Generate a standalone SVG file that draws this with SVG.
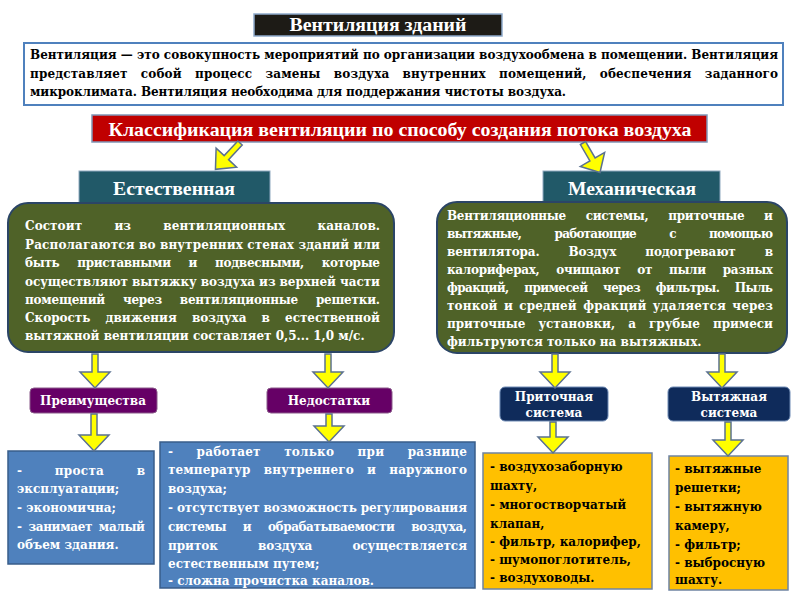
<svg xmlns="http://www.w3.org/2000/svg" width="800" height="600" viewBox="0 0 800 600">
<style>
.ttl{font-family:"Liberation Serif","Times New Roman",serif;font-weight:bold;fill:#fff}
.bd{font-family:"DejaVu Serif","Liberation Serif",serif;font-weight:bold;font-size:12px}
.w{fill:#fff}
.k{fill:#000}
.lbl{font-family:"DejaVu Serif","Liberation Serif",serif;font-weight:bold;font-size:12px;fill:#fff;text-anchor:middle}
.arr{fill:#ffff00;stroke:#5b7190;stroke-width:1.5;stroke-linejoin:miter}
.green{fill:#4f6228;stroke:#2b4566;stroke-width:2}
.blue{fill:#4f81bd;stroke:#385d8a;stroke-width:1.5}
.orange{fill:#ffc000;stroke:#6f84a3;stroke-width:1.5}
.purple{fill:#660066;stroke:#8a5a8a;stroke-width:1}
.navy{fill:#0f2b5b;stroke:#6f8bb5;stroke-width:1}
.teal{fill:#215968;stroke:#8fa9c0;stroke-width:1}
</style>
<rect width="800" height="600" fill="#fff"/>

<g id="title">
<rect x="254" y="14" width="248" height="22" fill="#1d1b16" stroke="#8eaacb" stroke-width="1.5"/>
<text class="ttl" x="378" y="31" font-size="18" text-anchor="middle" textLength="177" lengthAdjust="spacingAndGlyphs">Вентиляция зданий</text>
</g>

<g id="intro">
<rect x="24" y="43" width="759" height="62" fill="#fff" stroke="#4f81bd" stroke-width="2"/>
<text class="bd k" x="30" y="59" textLength="748" lengthAdjust="spacing">Вентиляция — это совокупность мероприятий по организации воздухообмена в помещении. Вентиляция</text>
<text class="bd k" x="30" y="78" word-spacing="9" textLength="748" lengthAdjust="spacing">представляет собой процесс замены воздуха внутренних помещений, обеспечения заданного</text>
<text class="bd k" x="30" y="96" textLength="536" lengthAdjust="spacing">микроклимата. Вентиляция необходима для поддержания чистоты воздуха.</text>
</g>

<g id="classification">
<rect x="92" y="115" width="615" height="27" fill="#c00000" stroke="#8096b6" stroke-width="1.5"/>
<text class="ttl" x="400" y="136" font-size="19" text-anchor="middle" textLength="583" lengthAdjust="spacingAndGlyphs">Классификация вентиляции по способу создания потока воздуха</text>
</g>

<g id="natural">
<rect class="teal" x="79" y="171" width="191" height="32"/>
<text class="ttl" x="174" y="195" font-size="18" text-anchor="middle" textLength="122" lengthAdjust="spacingAndGlyphs">Естественная</text>
</g>

<g id="mechanical">
<rect class="teal" x="543" y="171" width="177" height="32"/>
<text class="ttl" x="632" y="195" font-size="18" text-anchor="middle" textLength="128" lengthAdjust="spacingAndGlyphs">Механическая</text>
</g>

<g id="natural-desc">
<rect class="green" x="8" y="203" width="386" height="149" rx="20"/>
<text class="bd w" x="25" y="230" word-spacing="28" textLength="355" lengthAdjust="spacing">Состоит из вентиляционных каналов.</text>
<text class="bd w" x="25" y="248.5" textLength="355" lengthAdjust="spacing">Располагаются во внутренних стенах зданий или</text>
<text class="bd w" x="25" y="267" word-spacing="14" textLength="355" lengthAdjust="spacing">быть приставными и подвесными, которые</text>
<text class="bd w" x="25" y="285.5" textLength="355" lengthAdjust="spacing">осуществляют вытяжку воздуха из верхней части</text>
<text class="bd w" x="25" y="304" word-spacing="14" textLength="355" lengthAdjust="spacing">помещений через вентиляционные решетки.</text>
<text class="bd w" x="25" y="322" word-spacing="11" textLength="355" lengthAdjust="spacing">Скорость движения воздуха в естественной</text>
<text class="bd w" x="25" y="340">вытяжной вентиляции составляет 0,5... 1,0 м/с.</text>
</g>

<g id="mechanical-desc">
<rect class="green" x="437" y="202" width="350" height="151" rx="20"/>
<text class="bd w" x="447" y="220" word-spacing="16" textLength="326" lengthAdjust="spacing">Вентиляционные системы, приточные и</text>
<text class="bd w" x="447" y="238" word-spacing="30" textLength="326" lengthAdjust="spacing">вытяжные, работающие с помощью</text>
<text class="bd w" x="447" y="256" word-spacing="25" textLength="326" lengthAdjust="spacing">вентилятора. Воздух подогревают в</text>
<text class="bd w" x="447" y="274" word-spacing="13" textLength="326" lengthAdjust="spacing">калориферах, очищают от пыли разных</text>
<text class="bd w" x="447" y="292" word-spacing="12" textLength="326" lengthAdjust="spacing">фракций, примесей через фильтры. Пыль</text>
<text class="bd w" x="447" y="310" word-spacing="2" textLength="326" lengthAdjust="spacing">тонкой и средней фракций удаляется через</text>
<text class="bd w" x="447" y="328" word-spacing="9" textLength="326" lengthAdjust="spacing">приточные установки, а грубые примеси</text>
<text class="bd w" x="447" y="346">фильтруются только на вытяжных.</text>
</g>

<g id="advantages">
<rect class="purple" x="30" y="388" width="127" height="25" rx="4"/>
<text class="lbl" x="93" y="405">Преимущества</text>
</g>

<g id="disadvantages">
<rect class="purple" x="267" y="388" width="125" height="25" rx="4"/>
<text class="lbl" x="329" y="405">Недостатки</text>
</g>

<g id="supply">
<rect class="navy" x="500" y="387" width="108" height="34" rx="5"/>
<text class="lbl" x="554" y="401">Приточная</text>
<text class="lbl" x="554" y="417">система</text>
</g>

<g id="exhaust">
<rect class="navy" x="668" y="387" width="122" height="34" rx="5"/>
<text class="lbl" x="729" y="401">Вытяжная</text>
<text class="lbl" x="729" y="417">система</text>
</g>

<g id="advantages-list">
<rect class="blue" x="8" y="451" width="146" height="113"/>
<text class="bd w" x="17" y="475" word-spacing="28" textLength="128" lengthAdjust="spacing">- проста в</text>
<text class="bd w" x="17" y="493">эксплуатации;</text>
<text class="bd w" x="17" y="512">- экономична;</text>
<text class="bd w" x="17" y="531" word-spacing="3" textLength="128" lengthAdjust="spacing">- занимает малый</text>
<text class="bd w" x="17" y="549">объем здания.</text>
</g>

<g id="disadvantages-list">
<rect class="blue" x="160" y="442" width="315" height="146"/>
<text class="bd w" x="168" y="456" word-spacing="19" textLength="299" lengthAdjust="spacing">- работает только при разнице</text>
<text class="bd w" x="168" y="474" word-spacing="9" textLength="299" lengthAdjust="spacing">температур внутреннего и наружного</text>
<text class="bd w" x="168" y="493">воздуха;</text>
<text class="bd w" x="168" y="512" textLength="299" lengthAdjust="spacing">- отсутствует возможность регулирования</text>
<text class="bd w" x="168" y="531" word-spacing="13" textLength="299" lengthAdjust="spacing">системы и обрабатываемости воздуха,</text>
<text class="bd w" x="168" y="550" word-spacing="36" textLength="299" lengthAdjust="spacing">приток воздуха осуществляется</text>
<text class="bd w" x="168" y="568">естественным путем;</text>
<text class="bd w" x="168" y="585">- сложна прочистка каналов.</text>
</g>

<g id="supply-list">
<rect class="orange" x="483" y="453" width="169" height="136"/>
<text class="bd k" x="490" y="471">- воздухозаборную</text>
<text class="bd k" x="490" y="490">шахту,</text>
<text class="bd k" x="490" y="509">- многостворчатый</text>
<text class="bd k" x="490" y="528">клапан,</text>
<text class="bd k" x="490" y="546">- фильтр, калорифер,</text>
<text class="bd k" x="490" y="564">- шумопоглотитель,</text>
<text class="bd k" x="490" y="582">- воздуховоды.</text>
</g>

<g id="exhaust-list">
<rect class="orange" x="669" y="456" width="119" height="134"/>
<text class="bd k" x="675" y="473">- вытяжные</text>
<text class="bd k" x="675" y="492">решетки;</text>
<text class="bd k" x="675" y="511">- вытяжную</text>
<text class="bd k" x="675" y="530">камеру,</text>
<text class="bd k" x="675" y="549">- фильтр;</text>
<text class="bd k" x="675" y="567">- выбросную</text>
<text class="bd k" x="675" y="584">шахту.</text>
</g>

<g id="connectors">
<path class="arr" transform="translate(240,143) rotate(43)" d="M-3,0 H3 V20 H14 L0,36 L-14,20 H-3 Z"/>
<path class="arr" transform="translate(583,143) rotate(-30)" d="M-3,0 H3 V19 H14 L0,34 L-14,19 H-3 Z"/>
<path class="arr" d="M92,354 H98 V372 H110 L95,388 L80,372 H92 Z"/>
<path class="arr" d="M325,354 H331 V372 H343 L328,388 L313,372 H325 Z"/>
<path class="arr" d="M91,414 H97 V435 H109 L94,451 L79,435 H91 Z"/>
<path class="arr" d="M326,414 H332 V426 H344 L329,442 L314,426 H326 Z"/>
<path class="arr" d="M552,354 H558 V372 H570 L555,388 L540,372 H552 Z"/>
<path class="arr" d="M719,354 H725 V372 H737 L722,388 L707,372 H719 Z"/>
<path class="arr" d="M550,422 H556 V437 H568 L553,453 L538,437 H550 Z"/>
<path class="arr" d="M725,422 H731 V440 H743 L728,456 L713,440 H725 Z"/>
</g>
</svg>
